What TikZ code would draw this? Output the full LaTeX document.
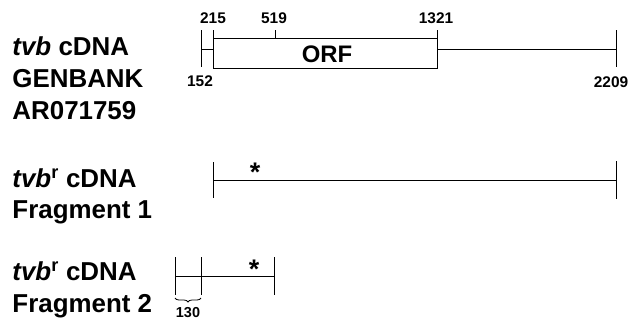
\documentclass[tikz,border=0pt]{standalone}
\usepackage{fontspec}
\setmainfont{Liberation Sans}
\usetikzlibrary{decorations.pathreplacing}
\begin{document}
\begin{tikzpicture}[x=1bp,y=-1bp, line width=0.9bp,
  lbl/.style={font=\fontsize{26}{30}\selectfont\bfseries, anchor=base west, inner sep=0pt},
  num/.style={font=\fontsize{15.5}{18}\selectfont\bfseries, anchor=base, inner sep=0pt},
  orflbl/.style={font=\fontsize{24}{27}\selectfont\bfseries, anchor=base, inner sep=0pt},
  starlbl/.style={font=\fontsize{27}{30}\selectfont\bfseries, inner sep=0pt},
  sm/.style={font=\fontsize{14.5}{17}\selectfont\bfseries, inner sep=0pt}]
\useasboundingbox (0,0) rectangle (634,323);

% left labels
\node[lbl] (l1a) at (12,55) {\textit{tvb} cDNA};
\node[lbl] (l1b) at (12,87) {GENBANK};
\node[lbl] (l1c) at (12,119) {AR071759};
\node[lbl] (l2a) at (12,187) {\textit{tvb}\textsuperscript{\upshape r} cDNA};
\node[lbl] (l2b) at (12,218) {Fragment 1};
\node[lbl] (l3a) at (12,280) {\textit{tvb}\textsuperscript{\upshape r} cDNA};
\node[lbl] (l3b) at (12,312) {Fragment 2};

% row 1: full cDNA
\coordinate (t152a) at (201,30);
\coordinate (t152b) at (201,67);
\coordinate (c152) at (201,49);
\coordinate (c215) at (213,49);
\coordinate (t215) at (213,30);
\coordinate (boxnw) at (213,38);
\coordinate (boxse) at (437,68);
\coordinate (t519a) at (275,30);
\coordinate (t519b) at (275,38);
\coordinate (t1321a) at (437,30);
\coordinate (t1321b) at (437,38);
\coordinate (c1321) at (437,49);
\coordinate (c2209) at (616,49);
\coordinate (t2209a) at (616,30);
\coordinate (t2209b) at (616,67);

\draw (t152a) -- (t152b);
\draw (c152) -- (c215);
\draw (t215) -- (boxnw);
\draw (boxnw) rectangle (boxse);
\draw (t519a) -- (t519b);
\draw (t1321a) -- (t1321b);
\draw (c1321) -- (c2209);
\draw (t2209a) -- (t2209b);

\node[num] (n215) at (213,23) {215};
\node[num] (n519) at (274,23) {519};
\node[num] (n1321) at (436,23) {1321};
\node[num] (n152) at (200,86) {152};
\node[num] (n2209) at (611,87) {2209};
\node[orflbl] (orf) at (327,62) {ORF};

% row 2: fragment 1
\coordinate (f1la) at (213,162);
\coordinate (f1lb) at (213,198);
\coordinate (f1l) at (213,180);
\coordinate (f1r) at (616,180);
\coordinate (f1ra) at (616,161);
\coordinate (f1rb) at (616,199);
\draw (f1la) -- (f1lb);
\draw (f1l) -- (f1r);
\draw (f1ra) -- (f1rb);
\node[starlbl] (s1) at (255,172) {*};

% row 3: fragment 2
\coordinate (f2aa) at (175,257);
\coordinate (f2ab) at (175,295);
\coordinate (f2ba) at (201,257);
\coordinate (f2bb) at (201,295);
\coordinate (f2ca) at (274,257);
\coordinate (f2cb) at (274,295);
\coordinate (f2l) at (175,276);
\coordinate (f2r) at (274,276);
\draw (f2aa) -- (f2ab);
\draw (f2ba) -- (f2bb);
\draw (f2ca) -- (f2cb);
\draw (f2l) -- (f2r);
\node[starlbl] (s2) at (254,269) {*};

\coordinate (br1) at (175,298);
\coordinate (br2) at (201,298);
\draw[line width=0.8bp, decorate, decoration={brace, mirror, amplitude=4bp}] (br1) -- (br2);
\node[sm] (n130) at (188,313) {130};
\end{tikzpicture}
\end{document}
